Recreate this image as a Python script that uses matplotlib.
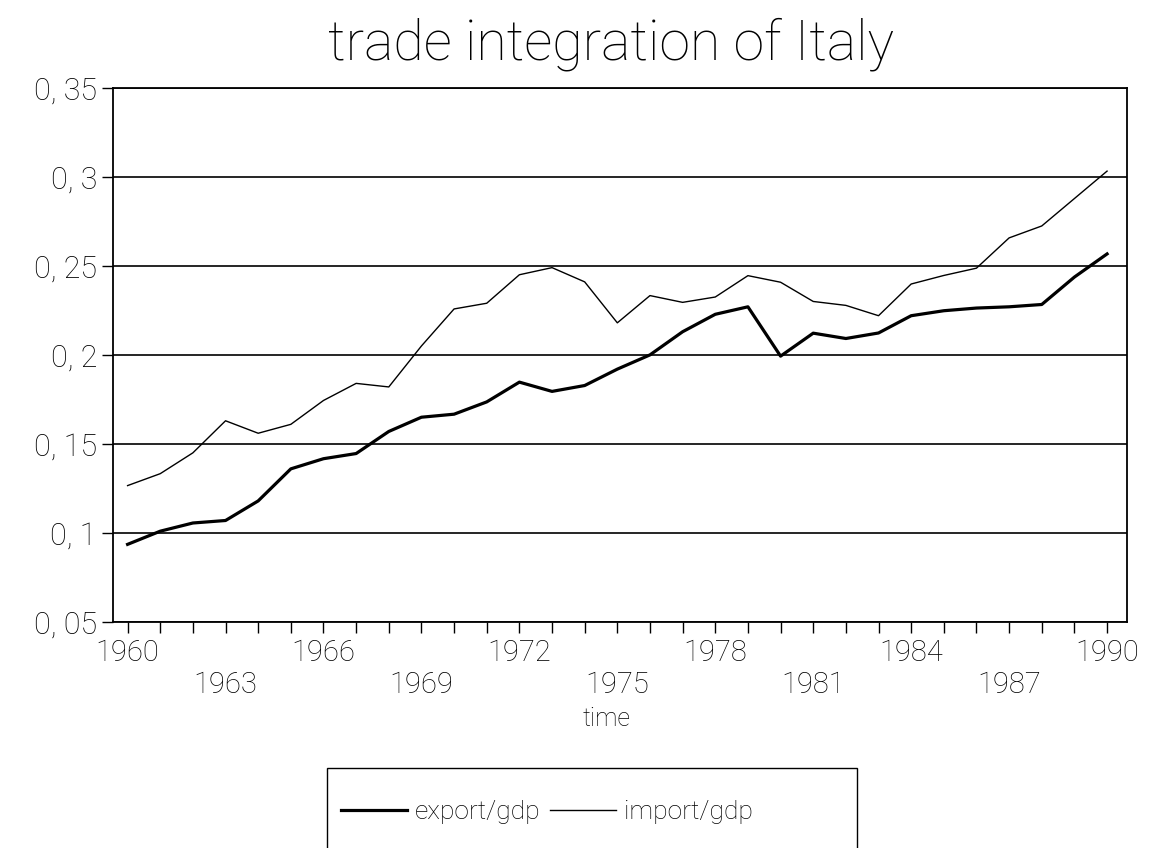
import matplotlib
matplotlib.use('Agg')
import matplotlib.pyplot as plt
from matplotlib.ticker import MultipleLocator
from matplotlib.patches import Rectangle

plt.rcParams['font.family'] = ['Roboto', 'DejaVu Sans']
plt.rcParams['font.weight'] = 'light'
plt.rcParams['axes.labelweight'] = 'light'

years = list(range(1960, 1991))
export_gdp = [0.0936, 0.101, 0.1056, 0.107, 0.118, 0.136, 0.1417, 0.1446, 0.157, 0.165,
              0.1667, 0.1736, 0.1847, 0.1795, 0.1828, 0.192, 0.200, 0.213, 0.2228, 0.227,
              0.1993, 0.2122, 0.2092, 0.2123, 0.222, 0.2248, 0.2263, 0.227, 0.2283, 0.2437,
              0.2567]
import_gdp = [0.1266, 0.1333, 0.145, 0.163, 0.156, 0.161, 0.1744, 0.184, 0.182, 0.205,
              0.2258, 0.229, 0.245, 0.249, 0.241, 0.218, 0.2333, 0.2295, 0.2325, 0.2445,
              0.2408, 0.2300, 0.2278, 0.222, 0.2398, 0.2446, 0.2487, 0.2657, 0.2724, 0.2878,
              0.3032]
yticks = [0.05, 0.1, 0.15, 0.2, 0.25, 0.3, 0.35]
ylabels = ['0, 05', '0, 1', '0, 15', '0, 2', '0, 25', '0, 3', '0, 35']
xticks = list(range(1960, 1991, 3))

fig = plt.figure(figsize=(11.52, 8.48), dpi=100)
ax = fig.add_axes([0.098, 0.2665, 0.88, 0.63])

ax.plot(years, export_gdp, color='black', lw=2.3, label='export/gdp')
ax.plot(years, import_gdp, color='black', lw=1.0, label='import/gdp')

ax.set_ylim(0.05, 0.35)
ax.set_xlim(1959.55, 1990.6)
ax.set_yticks(yticks)
ax.set_yticklabels(ylabels, fontsize=22)
ax.set_xticks(xticks)
ax.set_xticklabels([str(y) if i % 2 == 0 else '\n' + str(y) for i, y in enumerate(xticks)],
                   fontsize=21, linespacing=1.2)
ax.xaxis.set_minor_locator(MultipleLocator(1))
ax.tick_params(axis='both', which='both', direction='out', length=8, width=1, color='black')
ax.tick_params(axis='x', which='major', pad=4)
ax.grid(axis='y', color='black', lw=1.2)
for s in ax.spines.values():
    s.set_linewidth(1.3)

ax.set_xlabel('time', fontsize=18, labelpad=6)
ax.xaxis.label.set_x(0.487)
fig.text(0.53, 0.948, 'trade integration of Italy', ha='center', va='center', fontsize=40)

# legend box runs off the bottom edge like in the scan
fig.patches.append(Rectangle((0.284, -0.02), 0.46, 0.114, transform=fig.transFigure,
                             fill=False, edgecolor='black', lw=1.0))
leg = fig.legend(loc='center left', bbox_to_anchor=(0.296, 0.042), ncol=2, fontsize=19,
                 frameon=False, handlelength=2.5, handletextpad=0.3, columnspacing=0.35,
                 borderpad=0, borderaxespad=0)

fig.savefig('out.png', dpi=100)
